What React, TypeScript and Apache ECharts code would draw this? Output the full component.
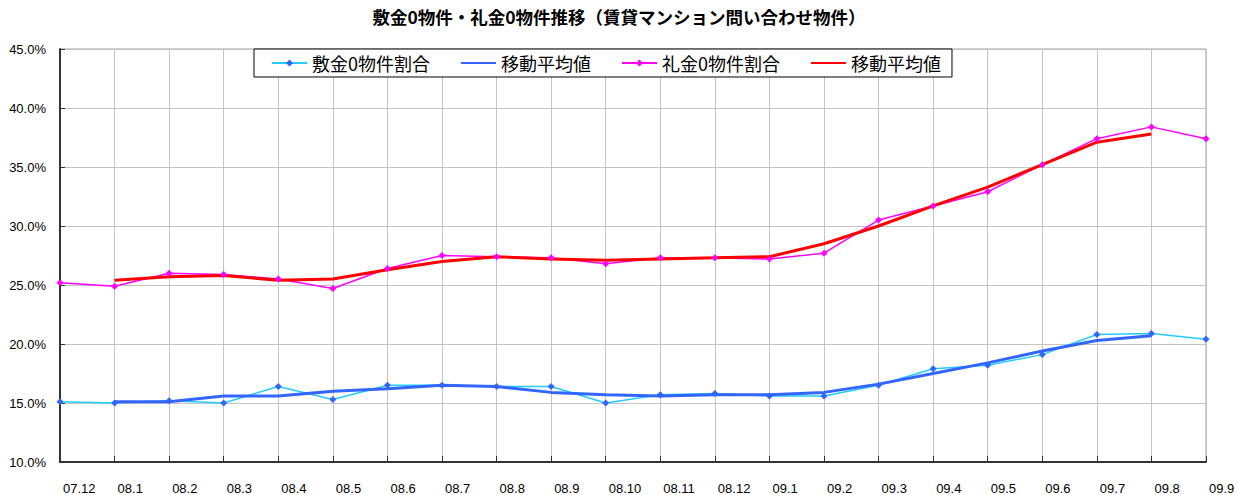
import React, { useEffect, useRef } from "react";
import * as echarts from "echarts";

const categories = [
  "07.12", "08.1", "08.2", "08.3", "08.4", "08.5", "08.6", "08.7", "08.8", "08.9", "08.10",
  "08.11", "08.12", "09.1", "09.2", "09.3", "09.4", "09.5", "09.6", "09.7", "09.8", "09.9",
];

const shikikinRatio = [
  15.1, 15.0, 15.2, 15.0, 16.4, 15.3, 16.5, 16.5, 16.4, 16.4, 15.0,
  15.7, 15.8, 15.6, 15.6, 16.5, 17.9, 18.2, 19.1, 20.8, 20.9, 20.4,
];

const shikikinAvg = [
  null, 15.1, 15.1, 15.6, 15.6, 16.0, 16.2, 16.5, 16.4, 15.9, 15.7,
  15.6, 15.7, 15.7, 15.9, 16.6, 17.5, 18.4, 19.4, 20.3, 20.7, null,
];

const reikinRatio = [
  25.2, 24.9, 26.0, 25.9, 25.5, 24.7, 26.4, 27.5, 27.4, 27.3, 26.8,
  27.3, 27.3, 27.2, 27.7, 30.5, 31.7, 32.9, 35.2, 37.4, 38.4, 37.4,
];

const reikinAvg = [
  null, 25.4, 25.7, 25.8, 25.4, 25.5, 26.3, 27.0, 27.4, 27.2, 27.1,
  27.2, 27.3, 27.4, 28.5, 30.0, 31.7, 33.3, 35.2, 37.1, 37.8, null,
];

const yTicks = { min: 10, max: 45, interval: 5 };

const TITLE = "敷金0物件・礼金0物件推移（賃貸マンション問い合わせ物件）";
const S1 = "敷金0物件割合";
const S2 = "移動平均値#1";
const S3 = "礼金0物件割合";
const S4 = "移動平均値#2";

export default function App() {
  const ref = useRef<HTMLDivElement>(null);

  useEffect(() => {
    if (!ref.current) return;
    const chart = echarts.init(ref.current, null, { renderer: "svg" });
    const cjk = "'Noto Sans CJK JP', 'Noto Sans', sans-serif";
    const num = "'Liberation Sans', Arial, sans-serif";
    chart.setOption({
      animation: false,
      backgroundColor: "#ffffff",
      title: {
        text: TITLE,
        left: "center",
        top: 8,
        padding: 0,
        textStyle: { fontFamily: cjk, fontSize: 17.5, fontWeight: "bold", color: "#000" },
      },
      legend: {
        left: 254,
        top: 49,
        orient: "horizontal",
        padding: [5, 11, 5, 17],
        itemGap: 30,
        itemWidth: 35,
        itemHeight: 9,
        borderColor: "#000",
        borderWidth: 1,
        backgroundColor: "#fff",
        data: [
          { name: S1 },
          { name: S2, itemStyle: { opacity: 0 } },
          { name: S3 },
          { name: S4, itemStyle: { opacity: 0 } },
        ],
        formatter: (name: string) => name.split("#")[0],
        textStyle: { fontFamily: cjk, fontSize: 18, color: "#000" },
      },
      grid: {
        left: 60,
        right: 32,
        top: 49,
        bottom: 33,
        show: true,
        borderColor: "#a0a0a0",
        borderWidth: 1,
        containLabel: false,
      },
      xAxis: {
        type: "category",
        boundaryGap: false,
        data: categories,
        axisLine: { show: true, lineStyle: { color: "#333", width: 2 } },
        axisTick: { show: true, inside: true, length: 6, lineStyle: { color: "#333" } },
        axisLabel: {
          interval: 0,
          align: "left",
          padding: [0, 0, 0, 3],
          margin: 20,
          fontFamily: num,
          fontSize: 13,
          color: "#000",
        },
        splitLine: { show: true, lineStyle: { color: "#c4c4c4", width: 1 } },
      },
      yAxis: {
        type: "value",
        min: yTicks.min,
        max: yTicks.max,
        interval: yTicks.interval,
        axisLine: { show: true, lineStyle: { color: "#333", width: 2 } },
        axisTick: { show: true, inside: true, length: 5, lineStyle: { color: "#333" } },
        axisLabel: {
          margin: 14,
          formatter: (v: number) => v.toFixed(1) + "%",
          fontFamily: num,
          fontSize: 13,
          color: "#000",
        },
        splitLine: { show: true, lineStyle: { color: "#c4c4c4", width: 1 } },
      },
      series: [
        {
          name: S1,
          type: "line",
          data: shikikinRatio,
          symbol: "diamond",
          symbolSize: 7,
          lineStyle: { color: "#22CCFF", width: 1.5 },
          itemStyle: { color: "#3366FF" },
        },
        {
          name: S2,
          type: "line",
          data: shikikinAvg,
          symbol: "none",
          lineStyle: { color: "#3366FF", width: 3 },
          itemStyle: { color: "#3366FF" },
        },
        {
          name: S3,
          type: "line",
          data: reikinRatio,
          symbol: "diamond",
          symbolSize: 7,
          lineStyle: { color: "#FF00FF", width: 1.5 },
          itemStyle: { color: "#FF00FF" },
        },
        {
          name: S4,
          type: "line",
          data: reikinAvg,
          symbol: "none",
          lineStyle: { color: "#FF0000", width: 3 },
          itemStyle: { color: "#FF0000" },
        },
      ],
    });
    return () => chart.dispose();
  }, []);

  return (
    <div
      ref={ref}
      style={{ position: "fixed", left: 0, top: 0, width: 1238, height: 495, background: "#fff" }}
    />
  );
}
